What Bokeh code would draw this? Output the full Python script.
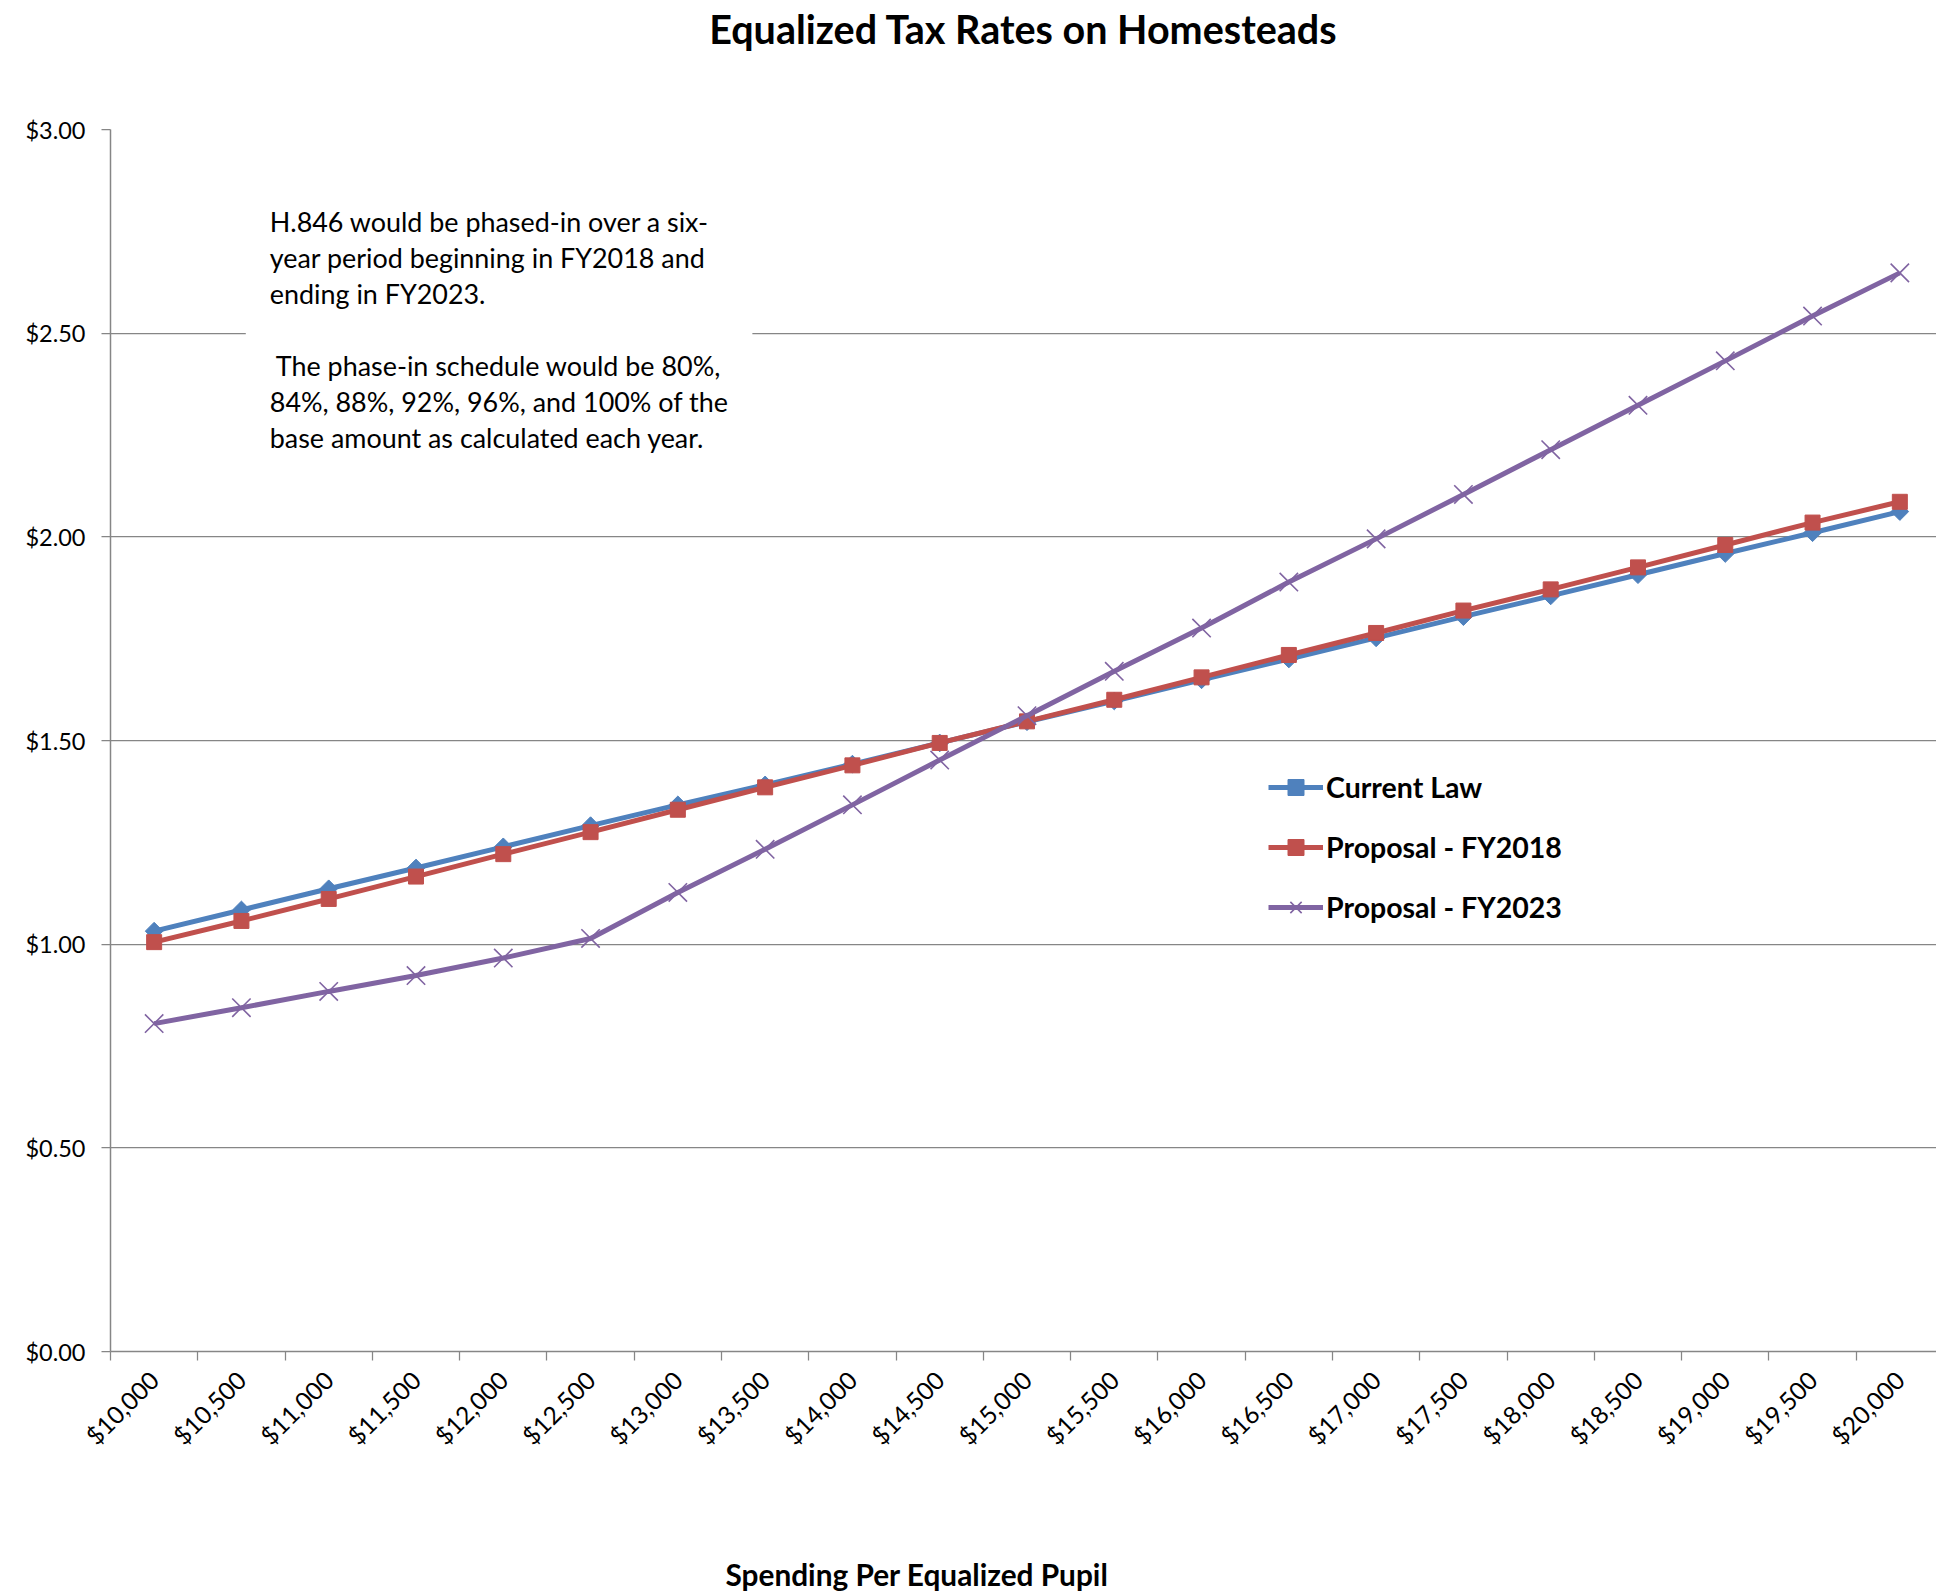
import math
from bokeh.plotting import figure
from bokeh.models import (FixedTicker, Label, Legend, LegendItem, Range1d,
                          NumeralTickFormatter, Title)
from bokeh.embed import file_html
from bokeh.resources import INLINE

# ---------------- data ----------------
spending = ["$10,000", "$10,500", "$11,000", "$11,500", "$12,000", "$12,500",
            "$13,000", "$13,500", "$14,000", "$14,500", "$15,000", "$15,500",
            "$16,000", "$16,500", "$17,000", "$17,500", "$18,000", "$18,500",
            "$19,000", "$19,500", "$20,000"]
current_law = [1.032, 1.084, 1.136, 1.187, 1.239, 1.291, 1.342, 1.391, 1.442,
               1.494, 1.546, 1.597, 1.649, 1.700, 1.752, 1.804, 1.855, 1.907,
               1.959, 2.010, 2.062]
proposal_fy2018 = [1.005, 1.057, 1.111, 1.166, 1.221, 1.275, 1.330, 1.385,
                   1.439, 1.494, 1.547, 1.600, 1.655, 1.710, 1.764, 1.819,
                   1.871, 1.925, 1.980, 2.035, 2.086]
proposal_fy2023 = [0.805, 0.844, 0.884, 0.923, 0.966, 1.014, 1.127, 1.233,
                   1.342, 1.452, 1.561, 1.670, 1.776, 1.889, 1.995, 2.104,
                   2.214, 2.323, 2.432, 2.542, 2.648]
y_ticks = [0.0, 0.5, 1.0, 1.5, 2.0, 2.5, 3.0]

title_text = "Equalized Tax Rates on Homesteads"
x_title_text = "Spending Per Equalized Pupil"
note_text = ("H.846 would be phased-in over a six-\n"
             "year period beginning in FY2018 and\n"
             "ending in FY2023.\n"
             "\n"
             "\u00a0The phase-in schedule would be 80%,\n"
             "84%, 88%, 92%, 96%, and 100% of the\n"
             "base amount as calculated each year.")

BLUE = "#4F81BD"
RED = "#C0504D"
PURPLE = "#8064A2"
GRID = "#868686"
FONT = "Lato"

idx = list(range(len(spending)))

p = figure(width=1936, height=1595, output_backend="svg", toolbar_location=None,
           x_range=Range1d(-0.5, 20.42), y_range=Range1d(0, 3),
           min_border_left=110, min_border_right=0, min_border_top=128,
           min_border_bottom=244, outline_line_color=None,
           background_fill_color="white", border_fill_color="white")

# chart title (outermost item of the top panel)
p.title.text = title_text
p.title.align = "center"
p.title.text_font = FONT
p.title.text_font_style = "bold"
p.title.text_font_size = "39.5px"
p.title.text_color = "black"
p.title.standoff = 4

# blank spacer between frame and title
p.add_layout(Title(text=" ", text_font_size="1px", standoff=73), "above")

# x axis
xa = p.xaxis[0]
xa.ticker = FixedTicker(ticks=idx, minor_ticks=[i - 0.5 for i in range(len(spending) + 1)])
xa.major_label_overrides = {i: s for i, s in zip(idx, spending)}
xa.major_label_orientation = math.pi / 4
xa.major_tick_out = 0
xa.major_tick_in = 0
xa.minor_tick_out = 9
xa.minor_tick_in = 0
xa.minor_tick_line_color = GRID
xa.minor_tick_line_width = 1.25
xa.axis_line_color = GRID
xa.axis_line_width = 1.5
xa.major_label_text_font = FONT
xa.major_label_text_font_size = "24.5px"
xa.major_label_text_color = "black"
xa.major_label_standoff = 15

# y axis
ya = p.yaxis[0]
ya.ticker = FixedTicker(ticks=y_ticks, minor_ticks=[])
ya.formatter = NumeralTickFormatter(format="$0.00")
ya.major_tick_out = 9
ya.major_tick_in = 0
ya.major_tick_line_color = GRID
ya.major_tick_line_width = 1.25
ya.axis_line_color = GRID
ya.axis_line_width = 1.5
ya.major_label_text_font = FONT
ya.major_label_text_font_size = "23.5px"
ya.major_label_text_color = "black"
ya.major_label_standoff = 16

p.xgrid.visible = False
p.ygrid.grid_line_color = GRID
p.ygrid.grid_line_width = 1.25

# series
l1 = p.line(idx, current_law, line_color=BLUE, line_width=5)
s1 = p.scatter(idx, current_law, marker="square", angle=math.pi / 4, size=12.5,
               fill_color=BLUE, line_color=BLUE)
l2 = p.line(idx, proposal_fy2018, line_color=RED, line_width=5)
s2 = p.scatter(idx, proposal_fy2018, marker="square", size=15,
               fill_color=RED, line_color=RED)
l3 = p.line(idx, proposal_fy2023, line_color=PURPLE, line_width=5)
s3 = p.scatter(idx, proposal_fy2023, marker="x", size=26,
               line_color=PURPLE, line_width=1.6)

legend = Legend(items=[
    LegendItem(label="Current Law", renderers=[l1, s1]),
    LegendItem(label="Proposal - FY2018", renderers=[l2, s2]),
    LegendItem(label="Proposal - FY2023", renderers=[l3, s3]),
], location=(1158, 424))
legend.label_text_font = FONT
legend.label_text_font_style = "bold"
legend.label_text_font_size = "28.5px"
legend.label_text_color = "black"
legend.glyph_width = 55
legend.glyph_height = 40
legend.label_height = 40
legend.spacing = 20
legend.padding = 0
legend.margin = 0
legend.label_standoff = 3
legend.border_line_color = None
legend.background_fill_alpha = 0
p.add_layout(legend)

# annotation note
note = Label(x=1.05, y=2.873, text=note_text, text_font=FONT,
             text_font_size="26.9px", text_color="black", text_baseline="top",
             text_align="left", text_line_height=1.09,
             background_fill_color="white", padding=24)
p.add_layout(note)

# blank spacer below the axis labels, then the x axis title
p.add_layout(Title(text=" ", text_font_size="1px", standoff=86), "below")
xt = Title(text=x_title_text, align="left", offset=615, text_font=FONT,
           text_font_style="bold", text_font_size="29.8px", text_color="black",
           standoff=4)
p.add_layout(xt, "below")

open("out.html", "w").write(file_html(p, INLINE))
